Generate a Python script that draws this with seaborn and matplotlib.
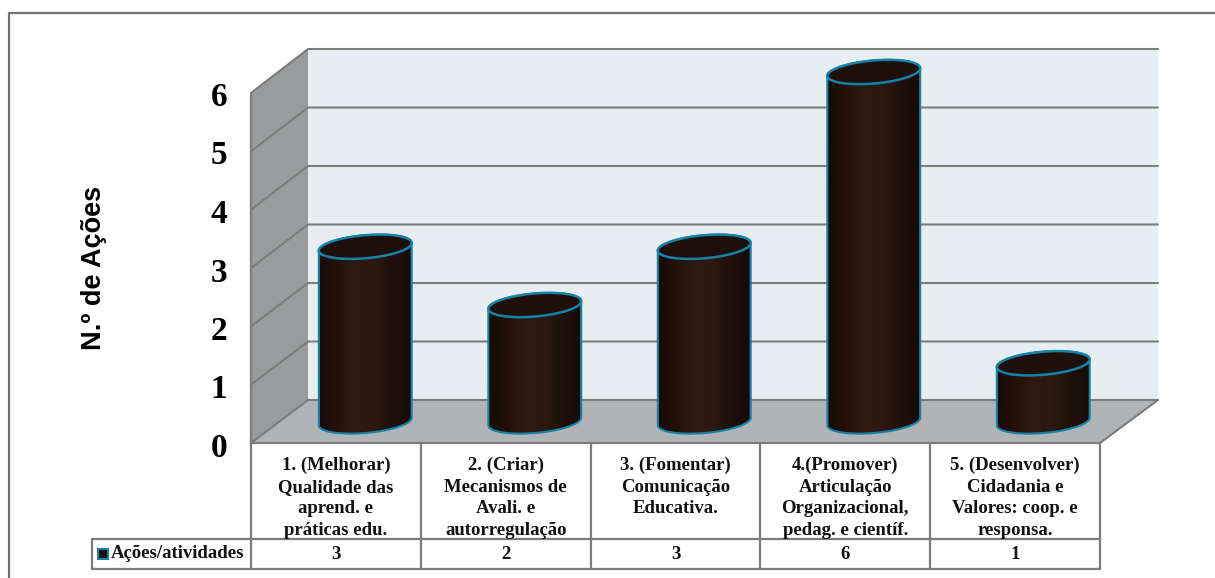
import numpy as np
import pandas as pd
import matplotlib
matplotlib.use("Agg")
import matplotlib.pyplot as plt
import seaborn as sns
from matplotlib.patches import Polygon, Rectangle, PathPatch
from matplotlib.path import Path
from matplotlib.colors import LinearSegmentedColormap

# ---- chart content ----
categories = [
    "1. (Melhorar)\nQualidade das\naprend. e\npráticas edu.",
    "2. (Criar)\nMecanismos de\nAvali. e\nautorregulação",
    "3. (Fomentar)\nComunicação\nEducativa.",
    "4.(Promover)\nArticulação\nOrganizacional,\npedag. e científ.",
    "5. (Desenvolver)\nCidadania e\nValores: coop. e\nresponsa.",
]
values = [3, 2, 3, 6, 1]
series_name = "Ações/atividades"
y_label = "N.º de Ações"
y_ticks = [0, 1, 2, 3, 4, 5, 6]

W, H = 1215, 578
GREY = "#7b7d7d"
EDGE = "#1583a8"
SERIF = "Liberation Serif"
SANS = "Liberation Sans"
TABLE_FS = 13.5

sns.set_theme(style="white")
fig = plt.figure(figsize=(W / 100, H / 100), dpi=100, facecolor="white")


def px_axes(x0, x1, y_top, y_bottom, **kw):
    """Axes placed by pixel box, y measured from the top of the figure."""
    return fig.add_axes([x0 / W, 1 - y_bottom / H, (x1 - x0) / W, (y_bottom - y_top) / H], **kw)


# Full-figure canvas in pixel units for the box walls, floor and data table
canvas = px_axes(0, W, 0, H)
canvas.set_xlim(0, W)
canvas.set_ylim(H, 0)
canvas.axis("off")

# Frame around the figure (open at right and bottom)
canvas.plot([9, 9, W], [H, 13, 13], color="#707070", lw=1.6, solid_capstyle="butt")

# Back wall, side wall and floor of the 3D box
FX0, FX1, FY0, FY1 = 251, 1100, 443, 93
BX0, BX1, BY0, BY1 = 308, 1158, 400, 49
canvas.add_patch(Polygon([(BX0, BY1), (BX1, BY1), (BX1, BY0), (BX0, BY0)], fc="#e8edf1", ec="none"))
canvas.add_patch(Polygon([(FX0, FY1), (BX0, BY1), (BX0, BY0), (FX0, FY0)], fc="#999b9d", ec="none"))
canvas.add_patch(Polygon([(FX0, FY0), (BX0, BY0), (BX1, BY0), (FX1, FY0)], fc="#b0b4b6", ec="none"))
for t in y_ticks:
    f = t / y_ticks[-1]
    yf = FY0 + (FY1 - FY0) * f
    yb = BY0 + (BY1 - BY0) * f
    canvas.plot([FX0, BX0, BX1], [yf, yb, yb], color=GREY, lw=1.5, solid_joinstyle="miter")
canvas.plot([FX0, FX0], [FY1, FY0], color=GREY, lw=1.6)
canvas.plot([BX1, FX1], [BY0, FY0], color=GREY, lw=1.5)

# Tick labels sit on the front edge of the side wall
front = px_axes(FX0, FX1, FY1 + 1, FY0 + 2, facecolor="none")
front.set_ylim(0, y_ticks[-1])
front.set_xticks([])
front.set_yticks(y_ticks)
front.set_yticklabels([str(t) for t in y_ticks], family=SERIF, fontweight="bold", fontsize=24, color="black")
front.tick_params(axis="y", length=0, pad=17)
for s in front.spines.values():
    s.set_visible(False)
fig.text(94 / W, 1 - 268 / H, y_label, rotation=90, ha="center", va="center",
         family=SANS, fontweight="bold", fontsize=19.5, color="black")

# Data axes: mid-depth plane of the box, where the cylinders stand
BASE, TOP = 421.5, 72
data_ax = px_axes(280.5, 1128, TOP, BASE, facecolor="none")
df = pd.DataFrame({"categoria": categories, "valor": values})
sns.barplot(data=df, x="categoria", y="valor", color="#1e0f0a", width=0.55, saturation=1, ax=data_ax)
data_ax.set_ylim(0, 6)
data_ax.set_xlim(-0.5, len(values) - 0.5)
data_ax.axis("off")

# Pixel sizes of one data unit, used to tilt the elliptical caps
ux = (1128 - 280.5) / len(values)
uy = (BASE - TOP) / 6
TILT = np.deg2rad(5)
CAP_HALF_H = 11.5

shade = LinearSegmentedColormap.from_list(
    "cyl", ["#140a07", "#231109", "#2f1a11", "#2c1810", "#1e0f0a", "#170b07"])


def cap_points(cx, val, half_w, start=0.0, stop=2 * np.pi, n=90):
    """Outline of a tilted ellipse centred on a bar end, in data units."""
    t = np.linspace(start, stop, n)
    ex = half_w * ux * np.cos(t)
    ey = CAP_HALF_H * np.sin(t)
    dx = ex * np.cos(TILT) - ey * np.sin(TILT)
    dy = ex * np.sin(TILT) + ey * np.cos(TILT)
    return np.column_stack([cx + dx / ux, val + dy / uy])


for bar in list(data_ax.patches):
    cx = bar.get_x() + bar.get_width() / 2
    half_w = bar.get_width() / 2
    val = bar.get_height()
    top = cap_points(cx, val, half_w)
    # Silhouette: back half of the top cap joined to the front half of the bottom cap
    upper = cap_points(cx, val, half_w, 0, np.pi)
    lower = cap_points(cx, 0, half_w, np.pi, 2 * np.pi)
    outline = np.vstack([upper, lower, upper[:1]])
    path = Path(outline)
    bar.set_clip_path(PathPatch(path, transform=data_ax.transData))
    bar.set_clip_box(fig.bbox)
    grad = data_ax.imshow(np.linspace(0, 1, 64)[None, :], cmap=shade, aspect="auto",
                          extent=[cx - half_w * 1.05, cx + half_w * 1.05, -1, val + 1],
                          zorder=3)
    # The front of the base curves below the axes box, so clip to the cylinder only
    grad.set_clip_path(PathPatch(path, transform=data_ax.transData))
    grad.set_clip_box(fig.bbox)
    data_ax.add_patch(PathPatch(path, fc="none", ec=EDGE, lw=1.5, zorder=4, clip_on=False))
    data_ax.add_patch(Polygon(top, closed=True, fc="#1e0f0a", ec=EDGE, lw=1.8, zorder=5, clip_on=False))
data_ax.set_xlim(-0.5, len(values) - 0.5)
data_ax.set_ylim(0, 6)

# Data table below the box
T_TOP, T_MID, T_BOT = 443, 539, 568.5
L_LEFT = 91.5
cols = np.linspace(FX0, FX1, len(categories) + 1)
canvas.plot([FX0, FX1], [T_TOP, T_TOP], color=GREY, lw=1.6)
canvas.plot([L_LEFT, FX1], [T_MID, T_MID], color=GREY, lw=1.6)
canvas.plot([L_LEFT, FX1], [T_BOT, T_BOT], color=GREY, lw=1.6)
canvas.plot([L_LEFT, L_LEFT], [T_MID, T_BOT], color=GREY, lw=1.6)
for c in cols:
    canvas.plot([c, c], [T_TOP, T_BOT], color=GREY, lw=1.6)
for i, (label, v) in enumerate(zip(categories, values)):
    cx = (cols[i] + cols[i + 1]) / 2
    canvas.text(cx, 457, label, ha="center", va="top", family=SERIF, fontweight="bold",
                fontsize=TABLE_FS, linespacing=1.34, color="#111111")
    canvas.text(cx, 554.5, str(v), ha="center", va="center", family=SERIF, fontweight="bold",
                fontsize=TABLE_FS, color="#111111")
canvas.add_patch(Rectangle((98, 548.5), 10, 10, fc="#1e0f0a", ec=EDGE, lw=1.5))
canvas.text(111, 554, series_name, ha="left", va="center", family=SERIF, fontweight="bold",
            fontsize=TABLE_FS, color="#111111")

fig.savefig("out.png", dpi=100)
